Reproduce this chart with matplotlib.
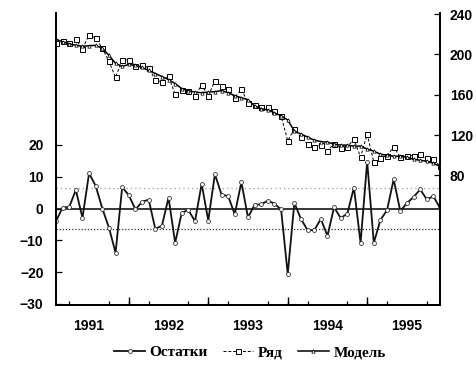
import numpy as np
import pandas as pd
import matplotlib
matplotlib.use("Agg")
from matplotlib import pyplot as plt
from matplotlib.ticker import FixedLocator, NullFormatter

# monthly sample, Feb 1991 .. Dec 1995
months = pd.period_range("1991-02", "1995-12", freq="M")

resid = [-4.0, 0.3, 0.5, 5.8, -2.9, 11.1, 7.1, 0.0, -6.0, -13.9,
         6.7, 4.2, -0.3, 2.1, 2.8, -6.4, -5.4, 3.4, -10.8, -1.3,
         -0.5, -4.0, 7.8, -3.8, 10.8, 4.4, 3.9, -1.8, 8.3, -2.8,
         1.2, 1.3, 2.5, 1.5, -0.3, -20.6, 1.8, -3.3, -6.8, -6.8,
         -3.3, -8.6, 0.4, -3.0, -1.6, 6.6, -10.8, 14.7, -10.8, -3.6,
         -0.5, 9.2, -0.8, 1.7, 3.6, 6.0, 2.9, 3.8, 0.2]

actual = [211.0, 212.8, 211.0, 214.8, 205.1, 219.6, 216.1, 206.0, 193.0, 177.1,
          194.7, 194.2, 188.7, 189.1, 186.8, 174.6, 172.6, 178.4, 160.2, 164.7,
          163.5, 158.5, 169.8, 158.7, 173.8, 168.4, 165.9, 157.2, 165.3, 152.2,
          150.2, 147.3, 147.5, 143.5, 138.7, 114.4, 125.8, 117.7, 111.2, 108.2,
          110.2, 104.4, 111.4, 107.0, 108.4, 115.6, 98.2, 120.7, 93.2, 97.4,
          99.5, 108.2, 98.2, 99.7, 99.6, 101.0, 96.9, 95.8, 89.2]

fitted = [215.0, 212.5, 210.5, 209.0, 208.0, 208.5, 209.0, 206.0, 199.0, 191.0,
          188.0, 190.0, 189.0, 187.0, 184.0, 181.0, 178.0, 175.0, 171.0, 166.0,
          164.0, 162.5, 162.0, 162.5, 163.0, 164.0, 162.0, 159.0, 157.0, 155.0,
          149.0, 146.0, 145.0, 142.0, 139.0, 135.0, 124.0, 121.0, 118.0, 115.0,
          113.5, 113.0, 111.0, 110.0, 110.0, 109.0, 109.0, 106.0, 104.0, 101.0,
          100.0, 99.0, 99.0, 98.0, 96.0, 95.0, 94.0, 92.0, 89.0]

se_band = 6.5
years = [1991, 1992, 1993, 1994, 1995]
left_ticks = [-30, -20, -10, 0, 10, 20]
right_ticks = [80, 120, 160, 200, 240]

t = np.array([p.year + (p.month - 1) / 12 for p in months])

fig = plt.figure(figsize=(4.76, 3.67), dpi=100)
ax = fig.add_axes([0.1176, 0.1676, 0.8068, 0.797])
ax2 = ax.twinx()

# residuals on the left scale
ax.axhline(0, color="black", lw=1.1, zorder=1)
ax.axhline(se_band, color="#999999", lw=0.9, ls=(0, (1, 2.5)), zorder=1)
ax.axhline(-se_band, color="#333333", lw=0.9, ls=(0, (1, 1.5)), zorder=1)
l1, = ax.plot(t, resid, color="#111111", lw=1.3, marker="o", ms=2.8,
              mfc="white", mec="#333333", mew=0.6, label="Остатки")

# actual and fitted on the right scale
l2, = ax2.plot(t, actual, color="black", lw=0.7, ls=(0, (3, 2)), marker="s",
               ms=3.6, mfc="white", mec="black", mew=0.7, label="Ряд")
l3, = ax2.plot(t, fitted, color="black", lw=1.1, marker="^", ms=2.4,
               mfc="white", mec="black", mew=0.5, label="Модель")

ax.set_xlim(t[0], t[-1])
ax.set_ylim(-30.5, 61.5)
ax2.set_ylim(-49, 241)

ax.set_yticks(left_ticks)
ax2.set_yticks(right_ticks)

# quarter ticks small, year labels centred in each year
ax.xaxis.set_minor_locator(FixedLocator(np.arange(1991, 1996.01, 0.25)))
ax.xaxis.set_minor_formatter(NullFormatter())
ax.set_xticks([y + 0.5 for y in years])
ax.set_xticklabels([str(y) for y in years])
ax.tick_params(axis="x", which="major", length=0, pad=10)
ax.tick_params(axis="x", which="minor", direction="in", length=3, width=0.9)
sec = ax.secondary_xaxis("bottom")
sec.set_xticks(years[1:] + [1996])
sec.tick_params(direction="in", length=6, width=1.0, labelbottom=False)
sec.spines["bottom"].set_visible(False)

ax.tick_params(axis="y", direction="in", length=4, width=0.9, pad=9)
ax2.tick_params(axis="y", direction="in", length=4, width=0.9, pad=7)

for a in (ax, ax2):
    a.spines["top"].set_visible(False)
    for s in ("left", "right", "bottom"):
        a.spines[s].set_linewidth(1.3)

for lab in ax.get_xticklabels() + ax.get_yticklabels() + ax2.get_yticklabels():
    lab.set_fontfamily("Liberation Sans")
    lab.set_fontweight("bold")
    lab.set_fontsize(10)

fig.legend(handles=[l1, l2, l3], loc="center", bbox_to_anchor=(0.525, 0.04),
           ncol=3, frameon=False, handlelength=2.0, handletextpad=0.3,
           columnspacing=1.0,
           prop={"family": "Liberation Serif", "size": 11, "weight": "bold"})

fig.savefig("out.png", dpi=100)
